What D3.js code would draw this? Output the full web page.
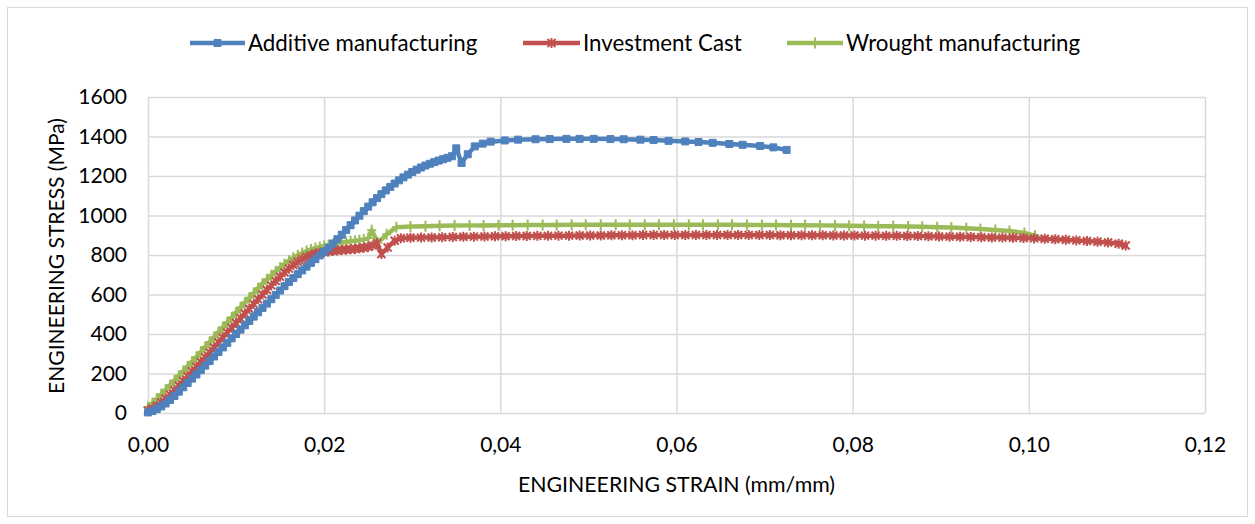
<!DOCTYPE html>
<html>
<head>
<meta charset="utf-8">
<script src="https://cdn.jsdelivr.net/npm/d3@7"></script>
<style>
  html, body { margin: 0; padding: 0; background: #ffffff; }
  svg { display: block; }
  text { font-family: Lato, "Noto Sans", sans-serif; fill: #000; }
</style>
</head>
<body>
<svg id="chart" width="1255" height="524"></svg>
<script>
// Engineering stress–strain curves: [strain (mm/mm), stress (MPa)]
const additive = [
  [0,3],[0.0005,10],[0.001,20],[0.0015,33],[0.002,48],[0.0025,66],[0.003,86],[0.0035,108],
  [0.004,130],[0.0045,152],[0.005,174],[0.0055,195],[0.006,217],[0.0065,240],[0.007,263],
  [0.0075,286],[0.008,309],[0.0085,332],[0.009,355],[0.0095,378],[0.01,400],[0.0105,422],
  [0.011,444],[0.0115,466],[0.012,488],[0.0125,510],[0.013,532],[0.0135,554],[0.014,576],
  [0.0145,598],[0.015,620],[0.0155,642],[0.016,663],[0.0165,683],[0.017,703],[0.0175,722],
  [0.018,741],[0.0185,760],[0.019,779],[0.0195,798],[0.02,817],[0.0205,837],[0.021,858],
  [0.0215,880],[0.022,903],[0.0225,927],[0.023,951],[0.0235,975],[0.024,999],[0.0245,1022],
  [0.025,1045],[0.0255,1067],[0.026,1088],[0.0265,1108],[0.027,1127],[0.0275,1145],[0.028,1162],
  [0.0285,1178],[0.029,1193],[0.0295,1207],[0.03,1220],[0.0305,1232],[0.031,1243],[0.0315,1253],
  [0.032,1262],[0.0325,1270],[0.033,1278],[0.0335,1285],[0.034,1292],[0.0345,1300],[0.035,1340],
  [0.0356,1266],[0.0363,1310],[0.0371,1350],[0.038,1364],[0.0389,1374],[0.0405,1380],[0.042,1384],
  [0.044,1386],[0.0456,1387],[0.0475,1388],[0.049,1388],[0.0506,1388],[0.0525,1387],[0.054,1386],
  [0.0559,1384],[0.0574,1382],[0.0591,1378],[0.061,1375],[0.0625,1372],[0.0641,1368],[0.066,1362],
  [0.0675,1358],[0.0695,1352],[0.071,1345],[0.0725,1332]
];

const investmentCast = [
  [0,12],[0.0005,22],[0.001,36],[0.0015,53],[0.002,72],[0.0025,93],[0.003,115],[0.0035,138],
  [0.004,162],[0.0045,186],[0.005,210],[0.0055,234],[0.006,258],[0.0065,282],[0.007,307],
  [0.0075,332],[0.008,357],[0.0085,382],[0.009,407],[0.0095,432],[0.01,456],[0.0105,480],
  [0.011,504],[0.0115,528],[0.012,552],[0.0125,576],[0.013,600],[0.0135,623],[0.014,646],
  [0.0145,668],[0.015,690],[0.0155,711],[0.016,731],[0.0165,749],[0.017,765],[0.0175,779],
  [0.018,790],[0.0185,799],[0.019,806],[0.0195,811],[0.02,815],[0.0205,818],[0.021,821],
  [0.0215,823],[0.022,825],[0.0225,827],[0.023,829],[0.0235,831],[0.024,834],[0.0245,837],
  [0.025,841],[0.0255,848],[0.026,860],[0.0265,805],[0.0272,838],[0.028,872],[0.0287,885],
  [0.0298,887],[0.031,888],[0.0322,889],[0.0334,890],[0.0346,891],[0.0358,892],[0.037,893],
  [0.0382,894],[0.0394,895],[0.0406,895],[0.0418,896],[0.043,896],[0.0442,897],[0.0454,897],
  [0.0466,898],[0.0478,898],[0.049,899],[0.0502,899],[0.0514,899],[0.0526,900],[0.0538,900],
  [0.055,900],[0.0562,901],[0.0574,901],[0.0586,901],[0.0598,901],[0.061,901],[0.0622,901],
  [0.0634,901],[0.0646,901],[0.0658,901],[0.067,901],[0.0682,901],[0.0694,901],[0.0706,901],
  [0.0718,900],[0.073,900],[0.0742,900],[0.0754,900],[0.0766,900],[0.0778,899],[0.079,899],
  [0.0802,899],[0.0814,898],[0.0826,898],[0.0838,897],[0.085,897],[0.0862,896],[0.0874,896],
  [0.0886,895],[0.0898,894],[0.091,893],[0.0922,892],[0.0934,891],[0.0946,890],[0.0958,889],
  [0.097,888],[0.0982,887],[0.0994,886],[0.1006,884],[0.1018,882],[0.103,880],[0.1042,877],
  [0.1054,874],[0.1066,871],[0.1078,867],[0.109,863],[0.1102,857],[0.111,848]
];

const wrought = [
  [0,30],[0.0005,50],[0.001,72],[0.0015,95],[0.002,118],[0.0025,141],[0.003,164],[0.0035,188],
  [0.004,212],[0.0045,236],[0.005,260],[0.0055,284],[0.006,309],[0.0065,334],[0.007,359],
  [0.0075,384],[0.008,409],[0.0085,434],[0.009,459],[0.0095,484],[0.01,509],[0.0105,534],
  [0.011,559],[0.0115,584],[0.012,608],[0.0125,632],[0.013,655],[0.0135,677],[0.014,698],
  [0.0145,718],[0.015,737],[0.0155,755],[0.016,771],[0.0165,786],[0.017,799],[0.0175,810],
  [0.018,820],[0.0185,828],[0.019,835],[0.0195,841],[0.02,846],[0.0205,851],[0.021,855],
  [0.0215,859],[0.022,863],[0.0225,866],[0.023,869],[0.0235,872],[0.024,875],[0.0245,879],
  [0.025,886],[0.0254,925],[0.0261,862],[0.0271,905],[0.0282,940],[0.0298,944],[0.0315,946],
  [0.0331,948],[0.0348,949],[0.0365,950],[0.0381,950],[0.0398,951],[0.0414,951],[0.0431,952],
  [0.0448,952],[0.0464,952],[0.0481,953],[0.0497,953],[0.0514,953],[0.0531,953],[0.0547,953],
  [0.0564,953],[0.058,953],[0.0597,953],[0.0614,953],[0.063,953],[0.0647,953],[0.0663,953],
  [0.068,952],[0.0697,952],[0.0713,952],[0.073,951],[0.0746,951],[0.0763,950],[0.078,949],
  [0.0796,948],[0.0813,947],[0.0829,946],[0.0846,945],[0.0863,944],[0.0879,943],[0.0896,941],
  [0.0912,939],[0.0929,936],[0.0945,932],[0.0962,927],[0.0978,921],[0.0995,912],[0.1007,898]
];

const seriesNames = ["Additive manufacturing", "Investment Cast", "Wrought manufacturing"];
const seriesColors = ["#4f81bd", "#c0504d", "#9bbb59"];
const xTicks = [0, 0.02, 0.04, 0.06, 0.08, 0.10, 0.12];
const yTicks = [0, 200, 400, 600, 800, 1000, 1200, 1400, 1600];
const xTitle = "ENGINEERING STRAIN (mm/mm)";
const yTitle = "ENGINEERING STRESS (MPa)";

const svg = d3.select("#chart");
const W = 1255, H = 524;
const plot = { left: 148, right: 1205, top: 97, bottom: 413 };

// outer chart frame
svg.append("rect")
  .attr("x", 7.5).attr("y", 7.5).attr("width", W - 15).attr("height", H - 15)
  .attr("fill", "#fff").attr("stroke", "#d9d9d9").attr("stroke-width", 1);

const x = d3.scaleLinear().domain([0, 0.12]).range([plot.left, plot.right]);
const y = d3.scaleLinear().domain([0, 1600]).range([plot.bottom, plot.top]);

// gridlines
const gridColor = "#d9d9d9";
svg.append("g")
  .attr("transform", `translate(${plot.left},0)`)
  .call(d3.axisLeft(y).tickValues(yTicks).tickSize(-(plot.right - plot.left)).tickFormat(""))
  .call(g => g.select(".domain").remove())
  .call(g => g.selectAll("line").attr("stroke", gridColor).attr("stroke-width", 1.5));
svg.append("g")
  .attr("transform", `translate(0,${plot.bottom})`)
  .call(d3.axisBottom(x).tickValues(xTicks).tickSize(-(plot.bottom - plot.top)).tickFormat(""))
  .call(g => g.select(".domain").remove())
  .call(g => g.selectAll("line").attr("stroke", gridColor).attr("stroke-width", 1.5));

// tick labels
const fmtX = d => d3.format(".2f")(d).replace(".", ",");
svg.append("g")
  .attr("transform", `translate(${plot.left},0)`)
  .call(d3.axisLeft(y).tickValues(yTicks).tickSize(0).tickPadding(21).tickFormat(d3.format("d")))
  .call(g => g.select(".domain").remove())
  .call(g => g.selectAll("text").attr("font-size", 21).attr("font-family", "Lato, sans-serif").attr("fill", "#000"));
svg.append("g")
  .attr("transform", `translate(0,${plot.bottom})`)
  .call(d3.axisBottom(x).tickValues(xTicks).tickSize(0).tickPadding(24).tickFormat(fmtX))
  .call(g => g.select(".domain").remove())
  .call(g => g.selectAll("text").attr("font-size", 21).attr("font-family", "Lato, sans-serif").attr("fill", "#000"));

// axis titles
svg.append("text")
  .attr("x", (plot.left + plot.right) / 2).attr("y", 492)
  .attr("text-anchor", "middle").attr("font-size", 21.3)
  .text(xTitle);
svg.append("text")
  .attr("transform", `translate(64,${(plot.top + plot.bottom) / 2 + 1}) rotate(-90)`)
  .attr("text-anchor", "middle").attr("font-size", 21)
  .text(yTitle);

// marker shapes
const markerPath = [
  "M-3.5,-3.5H3.5V3.5H-3.5Z",                       // square
  "M-4,-4L4,4M-4,4L4,-4M0,-5V5",                    // star
  "M0,-5.5V5.5M-4.5,0H4.5"                          // plus
];
function drawMarkers(g, pts, i) {
  g.selectAll("path.mk").data(pts).join("path")
    .attr("class", "mk")
    .attr("transform", d => `translate(${x(d[0])},${y(d[1])})`)
    .attr("d", markerPath[i])
    .attr("fill", i === 0 ? seriesColors[i] : "none")
    .attr("stroke", seriesColors[i])
    .attr("stroke-width", i === 0 ? 1 : 2);
}

const line = d3.line().x(d => x(d[0])).y(d => y(d[1]));
const allSeries = [additive, investmentCast, wrought];

// draw in order wrought, cast, additive so that additive sits on top
[2, 1, 0].forEach(i => {
  const g = svg.append("g");
  g.append("path").datum(allSeries[i])
    .attr("d", line)
    .attr("fill", "none")
    .attr("stroke", seriesColors[i])
    .attr("stroke-width", 4.5)
    .attr("stroke-linejoin", "round")
    .attr("stroke-linecap", "round");
  drawMarkers(g, allSeries[i], i);
});

// legend
const legendItems = [
  { x0: 190, x1: 245, tx: 248 },
  { x0: 523, x1: 580, tx: 583 },
  { x0: 787, x1: 843, tx: 846 }
];
const ly = 43;
legendItems.forEach((it, i) => {
  const g = svg.append("g");
  g.append("line")
    .attr("x1", it.x0).attr("x2", it.x1).attr("y1", ly).attr("y2", ly)
    .attr("stroke", seriesColors[i]).attr("stroke-width", 4.5);
  g.append("path")
    .attr("transform", `translate(${(it.x0 + it.x1) / 2},${ly})`)
    .attr("d", markerPath[i])
    .attr("fill", i === 0 ? seriesColors[i] : "none")
    .attr("stroke", seriesColors[i])
    .attr("stroke-width", i === 0 ? 1 : 2);
  g.append("text")
    .attr("x", it.tx).attr("y", ly).attr("dy", "0.35em")
    .attr("font-size", 22.3)
    .text(seriesNames[i]);
});
</script>
</body>
</html>
